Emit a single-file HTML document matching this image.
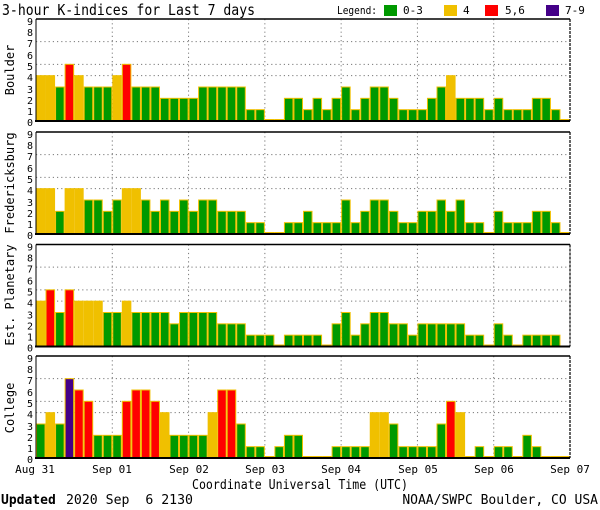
<!DOCTYPE html>
<html><head><meta charset="utf-8"><style>body{margin:0;background:#fff}svg{display:block}text{font-family:"DejaVu Sans Mono","Liberation Mono",monospace;fill:#000}</style></head><body>
<svg id="s" width="600" height="510" xmlns="http://www.w3.org/2000/svg">
<text x="2" y="15" font-size="15" textLength="253" lengthAdjust="spacingAndGlyphs">3-hour K-indices for Last 7 days</text>
<text x="337" y="14" font-size="11" textLength="40" lengthAdjust="spacingAndGlyphs">Legend:</text>
<rect x="384" y="5" width="13" height="11" fill="#009900"/><text x="403" y="14" font-size="11">0-3</text>
<rect x="444" y="5" width="13" height="11" fill="#f0c000"/><text x="463" y="14" font-size="11">4</text>
<rect x="485" y="5" width="13" height="11" fill="#ff0000"/><text x="505" y="14" font-size="11">5,6</text>
<rect x="546" y="5" width="13" height="11" fill="#440088"/><text x="565" y="14" font-size="11">7-9</text>
<text transform="translate(14,70) rotate(-90)" font-size="12" text-anchor="middle" font-family="Liberation Sans,sans-serif">Boulder</text>
<text transform="translate(14,183) rotate(-90)" font-size="12" text-anchor="middle" font-family="Liberation Sans,sans-serif">Fredericksburg</text>
<text transform="translate(14,295) rotate(-90)" font-size="12" text-anchor="middle" font-family="Liberation Sans,sans-serif">Est. Planetary</text>
<text transform="translate(14,408) rotate(-90)" font-size="12" text-anchor="middle" font-family="Liberation Sans,sans-serif">College</text>
<g font-size="11" text-anchor="middle">
<text x="35" y="473">Aug 31</text><text x="112" y="473">Sep 01</text><text x="189" y="473">Sep 02</text><text x="265" y="473">Sep 03</text><text x="341" y="473">Sep 04</text><text x="418" y="473">Sep 05</text><text x="494" y="473">Sep 06</text><text x="570" y="473">Sep 07</text>
</g>
<text x="192" y="489" font-size="13" textLength="216" lengthAdjust="spacingAndGlyphs">Coordinate Universal Time (UTC)</text>
<text x="1" y="504" font-size="13" font-family="Liberation Serif,serif" font-weight="bold">Updated</text>
<text x="66" y="504" font-size="13" textLength="127" lengthAdjust="spacingAndGlyphs" xml:space="preserve" style="white-space:pre">2020 Sep  6 2130</text>
<text x="598" y="504" font-size="13" text-anchor="end">NOAA/SWPC Boulder, CO USA</text>
<g id="ticks" font-size="10" text-anchor="end">
<text x="33" y="25">9</text><text x="33" y="36">8</text><text x="33" y="47">7</text><text x="33" y="59">6</text><text x="33" y="70">5</text><text x="33" y="81">4</text><text x="33" y="93">3</text><text x="33" y="104">2</text><text x="33" y="115">1</text><text x="33" y="126">0</text>
</g>
<g id="g"></g>
</svg>
<script>
var D=[[4,4,3,5,4,3,3,3,4,5,3,3,3,2,2,2,2,3,3,3,3,3,1,1,0,0,2,2,1,2,1,2,3,1,2,3,3,2,1,1,1,2,3,4,2,2,2,1,2,1,1,1,2,2,1,0],
[4,4,2,4,4,3,3,2,3,4,4,3,2,3,2,3,2,3,3,2,2,2,1,1,0,0,1,1,2,1,1,1,3,1,2,3,3,2,1,1,2,2,3,2,3,1,1,0,2,1,1,1,2,2,1,0],
[4,5,3,5,4,4,4,3,3,4,3,3,3,3,2,3,3,3,3,2,2,2,1,1,1,0,1,1,1,1,0,2,3,1,2,3,3,2,2,1,2,2,2,2,2,1,1,0,2,1,0,1,1,1,1,-1],
[3,4,3,7,6,5,2,2,2,5,6,6,5,4,2,2,2,2,4,6,6,3,1,1,0,1,2,2,0,0,0,1,1,1,1,4,4,3,1,1,1,1,3,5,4,0,1,0,1,1,0,2,1,0,0,0]];
var tops=[19,132,244.5,356],NS="http://www.w3.org/2000/svg",g=document.getElementById('g'),s=document.getElementById('s');
function el(t,a){var e=document.createElementNS(NS,t);for(var k in a)e.setAttribute(k,a[k]);g.appendChild(e);return e;}
var x0=36,x1=570,bw=(x1-x0)/56,u=102/9;
tops.forEach(function(t,p){
 var b=t+102;
 if(p>0){var tk=document.getElementById('ticks').cloneNode(true);tk.removeAttribute('id');tk.setAttribute('transform','translate(0,'+(t-19)+')');s.insertBefore(tk,g);}
 [4,5,7].forEach(function(k){el('line',{x1:x0,x2:x1,y1:b-k*u,y2:b-k*u,stroke:'#777','stroke-dasharray':'1.2 3'});});
 for(var d=1;d<7;d++){var x=x0+d*8*bw;el('line',{x1:x,x2:x,y1:t,y2:b,stroke:'#777','stroke-dasharray':'1.2 3'});}
 D[p].forEach(function(v,i){if(v<0)return;var h=v==0?1.5:v*u;var c=v<=3?'#009900':v==4?'#f0c000':v<=6?'#ff0000':'#440088';
  el('rect',{x:x0+i*bw+0.5,y:b-h,width:bw-1,height:h,fill:c,stroke:'#f0c000','stroke-width':1});});
 el('line',{x1:x0,x2:x1,y1:t,y2:t,stroke:'#000','stroke-width':1.5});
 el('line',{x1:x0-1,x2:x1,y1:b,y2:b,stroke:'#000','stroke-width':2});
 el('line',{x1:x1,x2:x1,y1:t,y2:b,stroke:'#000','stroke-width':1.2,'stroke-dasharray':'3 1'});
 el('line',{x1:x0,x2:x0,y1:t,y2:b,stroke:'#000','stroke-width':1});
});
</script>
</body></html>
